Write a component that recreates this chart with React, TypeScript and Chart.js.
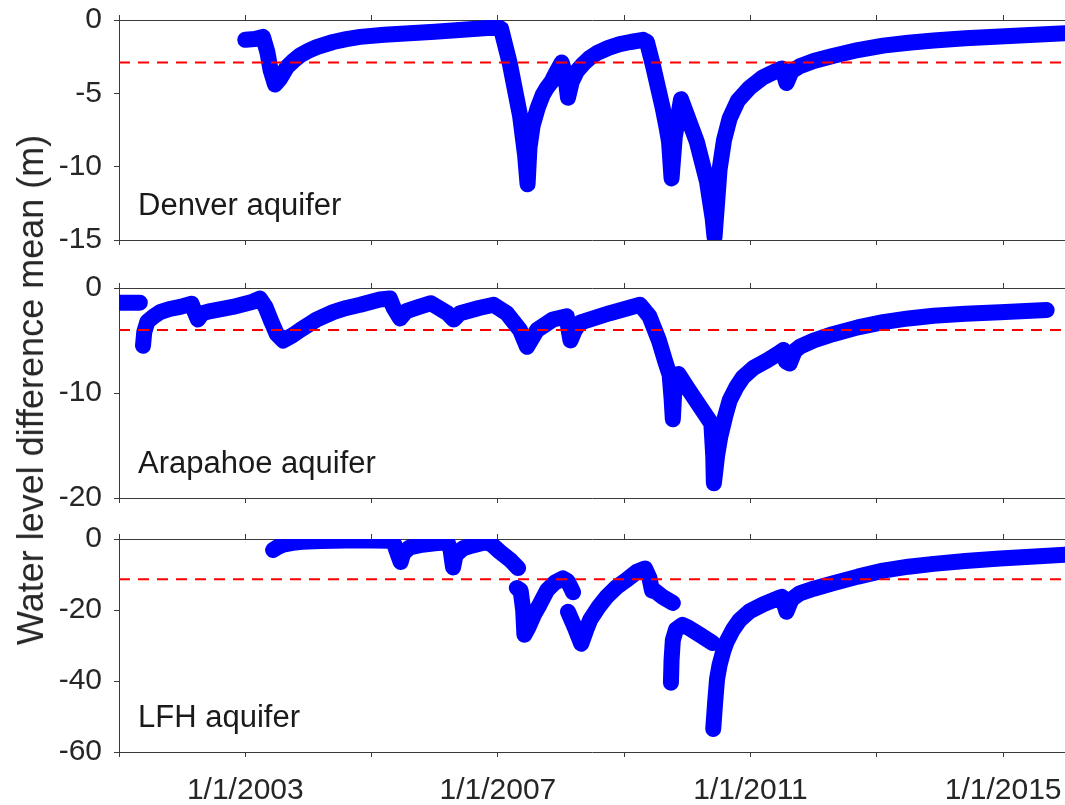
import React, { useEffect, useRef } from 'react';
import { Chart, registerables } from 'chart.js';

Chart.register(...registerables);

// ---- Shared time axis (decimal years) ----
const X_MIN = 2001;
const X_MAX = 2015.98;
const X_TICKS = [2001, 2003, 2005, 2007, 2009, 2011, 2013, 2015];
const X_LABELED = [2003, 2007, 2011, 2015];

// ---- Y ticks per aquifer ----
const DENVER_TICKS = [0, -5, -10, -15];
const ARAPAHOE_TICKS = [0, -10, -20];
const LFH_TICKS = [0, -20, -40, -60];

// ---- Long-term means (dashed reference lines) ----
const DENVER_MEAN = -2.9;
const ARAPAHOE_MEAN = -4.0;
const LFH_MEAN = -11.35;

// ---- Water level difference series: [decimal year, metres]; null breaks the record ----
const DENVER: [number, number | null][] = [
  [2003.0, -1.35], [2003.15, -1.3], [2003.28, -1.15], [2003.35, -2.2], [2003.4, -3.4],
  [2003.47, -4.4], [2003.55, -4.0], [2003.66, -3.2], [2003.77, -2.75], [2003.87, -2.4],
  [2004.0, -2.1], [2004.13, -1.85], [2004.39, -1.5], [2004.6, -1.3], [2004.82, -1.15],
  [2005.2, -1.0], [2005.6, -0.9], [2006.0, -0.8], [2006.5, -0.65], [2007.0, -0.5],
  [2007.05, -0.6], [2007.19, -3.0], [2007.35, -6.5], [2007.43, -9.2], [2007.47, -11.2],
  [2007.5, -8.7], [2007.55, -7.2], [2007.63, -6.0], [2007.71, -5.1], [2007.78, -4.6],
  [2007.85, -4.2], [2007.92, -3.6], [2008.01, -2.9], [2008.06, -3.6], [2008.11, -5.3],
  [2008.17, -4.2], [2008.25, -3.5], [2008.35, -3.0], [2008.45, -2.6], [2008.57, -2.25],
  [2008.75, -1.9], [2008.93, -1.65], [2009.1, -1.5], [2009.3, -1.35], [2009.36, -1.5],
  [2009.45, -3.0], [2009.53, -4.5], [2009.61, -6.0], [2009.67, -7.3], [2009.71, -8.3],
  [2009.75, -10.8], [2009.8, -8.0], [2009.9, -5.4], [2010.15, -8.3], [2010.31, -11.0],
  [2010.4, -13.5], [2010.43, -14.8], [2010.47, -12.5], [2010.51, -10.2], [2010.58, -8.2],
  [2010.67, -6.7], [2010.8, -5.5], [2010.99, -4.6], [2011.2, -3.9], [2011.42, -3.45],
  [2011.5, -3.3], [2011.57, -4.3], [2011.65, -3.5], [2011.78, -3.15], [2012.0, -2.8],
  [2012.3, -2.45], [2012.7, -2.05], [2013.1, -1.75], [2013.5, -1.55], [2013.9, -1.4],
  [2014.4, -1.25], [2014.95, -1.12], [2015.5, -1.0], [2015.98, -0.9],
];

const ARAPAHOE: [number, number | null][] = [
  [2001.0, -1.4], [2001.18, -1.4], [2001.33, -1.4], [2001.35, null],
  [2001.38, -5.5], [2001.4, -4.2], [2001.45, -3.2], [2001.55, -2.7], [2001.65, -2.3],
  [2001.8, -2.0], [2001.97, -1.8], [2002.15, -1.5], [2002.2, -2.3], [2002.25, -3.0],
  [2002.32, -2.4], [2002.45, -2.2], [2002.8, -1.8], [2003.12, -1.3], [2003.23, -1.0],
  [2003.32, -1.8], [2003.42, -3.3], [2003.5, -4.4], [2003.6, -5.0], [2003.75, -4.5],
  [2003.87, -4.0], [2004.0, -3.5], [2004.13, -3.0], [2004.39, -2.3], [2004.6, -1.9],
  [2004.82, -1.6], [2005.13, -1.1], [2005.29, -1.0], [2005.35, -1.9], [2005.45, -2.9],
  [2005.55, -2.2], [2005.75, -1.8], [2005.94, -1.45], [2006.2, -2.4], [2006.3, -3.0],
  [2006.4, -2.4], [2006.7, -1.9], [2006.93, -1.6], [2007.14, -2.4], [2007.35, -4.0],
  [2007.46, -5.6], [2007.62, -4.0], [2007.87, -3.0], [2008.09, -2.7], [2008.12, -4.0],
  [2008.15, -5.0], [2008.22, -4.0], [2008.3, -3.3], [2008.77, -2.4], [2009.25, -1.6],
  [2009.4, -2.7], [2009.55, -5.0], [2009.65, -7.0], [2009.72, -8.3], [2009.75, -10.5],
  [2009.77, -12.5], [2009.8, -9.0], [2009.86, -8.2], [2010.0, -9.5], [2010.2, -11.3],
  [2010.38, -12.9], [2010.41, -16.0], [2010.42, -18.6], [2010.47, -16.0], [2010.52, -14.2],
  [2010.6, -12.2], [2010.67, -10.7], [2010.78, -9.4], [2010.88, -8.5], [2011.05, -7.6],
  [2011.26, -6.9], [2011.45, -6.2], [2011.52, -5.9], [2011.56, -7.0], [2011.62, -7.2],
  [2011.7, -6.0], [2011.78, -5.6], [2012.0, -5.0], [2012.3, -4.4], [2012.7, -3.75],
  [2013.1, -3.25], [2013.5, -2.9], [2013.9, -2.65], [2014.4, -2.45], [2014.95, -2.3],
  [2015.69, -2.1],
];

const LFH: [number, number | null][] = [
  [2003.44, -3.1], [2003.52, -2.2], [2003.6, -1.6], [2003.75, -1.1], [2003.9, -0.8],
  [2004.2, -0.6], [2004.6, -0.4], [2005.0, -0.4], [2005.3, -0.5], [2005.36, -1.5],
  [2005.42, -4.5], [2005.46, -6.5], [2005.5, -4.0], [2005.6, -2.4], [2005.8, -1.6],
  [2006.0, -1.2], [2006.2, -0.9], [2006.25, -3.0], [2006.29, -8.0], [2006.33, -4.5],
  [2006.45, -2.6], [2006.6, -1.8], [2006.8, -0.9], [2006.9, -1.5], [2007.03, -3.6],
  [2007.2, -6.0], [2007.32, -8.2], [2007.32, null],
  [2007.3, -13.8], [2007.36, -14.5], [2007.4, -20.0], [2007.42, -27.0], [2007.48, -25.0],
  [2007.58, -21.0], [2007.66, -18.5], [2007.78, -14.4], [2007.9, -12.3], [2008.03, -11.1],
  [2008.1, -11.8], [2008.15, -13.5], [2008.19, -15.0], [2008.19, null],
  [2008.11, -20.5], [2008.22, -25.0], [2008.32, -29.5], [2008.4, -25.5], [2008.46, -22.8],
  [2008.6, -19.0], [2008.72, -16.3], [2008.88, -13.5], [2009.04, -11.5], [2009.2, -9.2],
  [2009.33, -8.3], [2009.4, -11.0], [2009.44, -14.5], [2009.5, -14.8], [2009.6, -16.2],
  [2009.77, -18.0], [2009.77, null],
  [2009.74, -40.5], [2009.75, -34.0], [2009.77, -28.5], [2009.82, -25.5], [2009.92, -24.2],
  [2010.0, -24.8], [2010.2, -27.0], [2010.4, -29.3], [2010.4, null],
  [2010.41, -53.5], [2010.44, -46.0], [2010.47, -39.5], [2010.51, -35.5], [2010.57, -31.5],
  [2010.62, -29.0], [2010.72, -25.6], [2010.83, -22.8], [2010.99, -20.3], [2011.2, -18.4],
  [2011.42, -16.8], [2011.5, -16.3], [2011.57, -20.5], [2011.65, -17.0], [2011.78, -15.3],
  [2012.0, -14.0], [2012.3, -12.5], [2012.7, -10.6], [2013.1, -8.9], [2013.5, -7.8],
  [2013.9, -7.0], [2014.4, -6.2], [2014.95, -5.5], [2015.5, -4.9], [2015.98, -4.4],
];

// ---- Styling / layout ----
const FONT = '"Liberation Sans", Arial, Helvetica, sans-serif';
const TEXT = '#262626';
const AXIS = '#3a3a3a';
const WIDTH = 1065;
const AXIS_LEFT = 119;
const PAD_TOP = 20;
const TICK_LEN = 5;

Chart.defaults.font.family = FONT;

// Panel name written in the lower-left corner of each plot area
const panelLabel = {
  id: 'panelLabel',
  afterDatasetsDraw(chart: any, _args: any, opts: any) {
    const { ctx, chartArea } = chart;
    ctx.save();
    ctx.font = `31px ${FONT}`;
    ctx.fillStyle = '#1a1a1a';
    ctx.textBaseline = 'alphabetic';
    ctx.textAlign = 'left';
    ctx.fillText(opts.text, chartArea.left + 19, chartArea.bottom - 25);
    ctx.restore();
  },
};

type PanelProps = {
  label: string;
  points: [number, number | null][];
  mean: number;
  yTicks: number[];
  top: number;
  bottom: number;
  bottomSpace: number;
  showDates: boolean;
};

function xTicks(scale: any) {
  scale.ticks = X_TICKS.map((value) => ({ value }));
}

// keep the plot area exactly where the axis boxes put it
function noScalePadding(s: any) {
  s.paddingTop = 0;
  s.paddingBottom = 0;
  s.paddingLeft = 0;
  s.paddingRight = 0;
}

function AquiferPanel(p: PanelProps) {
  const ref = useRef<HTMLCanvasElement | null>(null);
  const canvasH = p.bottom - p.top + PAD_TOP + p.bottomSpace;

  useEffect(() => {
    if (!ref.current) return;
    const yMin = Math.min(...p.yTicks);
    const yMax = Math.max(...p.yTicks);
    const gridStyle = {
      drawOnChartArea: false,
      drawTicks: true,
      tickLength: TICK_LEN,
      color: AXIS,
      lineWidth: 1,
    };
    const chart = new Chart(ref.current, {
      type: 'line',
      data: {
        datasets: [
          {
            data: [
              { x: X_MIN, y: p.mean },
              { x: X_MAX, y: p.mean },
            ],
            borderColor: '#ff0000',
            borderWidth: 2,
            borderDash: [11, 8],
            pointRadius: 0,
            xAxisID: 'x',
            yAxisID: 'y',
            order: 0,
          },
          {
            data: p.points.map(([x, y]) => ({ x, y })),
            borderColor: '#0000ff',
            borderWidth: 16,
            borderCapStyle: 'round',
            borderJoinStyle: 'round',
            pointRadius: 0,
            spanGaps: false,
            tension: 0,
            xAxisID: 'x',
            yAxisID: 'y',
            order: 1,
          },
        ],
      } as any,
      options: {
        animation: false,
        responsive: false,
        maintainAspectRatio: false,
        events: [],
        layout: {
          autoPadding: false,
          padding: { top: PAD_TOP - 8, bottom: p.showDates ? 0 : p.bottomSpace - 8, left: 0, right: 0 },
        },
        plugins: {
          legend: { display: false },
          tooltip: { enabled: false },
          panelLabel: { text: p.label },
        } as any,
        scales: {
          x: {
            type: 'linear',
            position: 'bottom',
            min: X_MIN,
            max: X_MAX,
            afterBuildTicks: xTicks,
            afterFit: (s: any) => {
              s.height = p.showDates ? p.bottomSpace : 8;
              noScalePadding(s);
            },
            ticks: {
              display: p.showDates,
              autoSkip: false,
              maxRotation: 0,
              padding: 16,
              color: TEXT,
              font: { size: 30, family: FONT },
              callback: (v: any) => (X_LABELED.includes(Number(v)) ? `1/1/${v}` : ''),
            },
            grid: gridStyle,
            border: { display: true, color: AXIS, width: 1 },
          },
          x2: {
            type: 'linear',
            position: 'top',
            min: X_MIN,
            max: X_MAX,
            afterBuildTicks: xTicks,
            afterFit: (s: any) => {
              s.height = 8;
              noScalePadding(s);
            },
            ticks: { display: false, autoSkip: false },
            grid: gridStyle,
            border: { display: true, color: AXIS, width: 1 },
          },
          y: {
            type: 'linear',
            position: 'left',
            min: yMin,
            max: yMax,
            afterBuildTicks: (s: any) => {
              s.ticks = p.yTicks.map((value) => ({ value }));
            },
            afterFit: (s: any) => {
              s.width = AXIS_LEFT;
              noScalePadding(s);
            },
            ticks: {
              padding: 12,
              color: TEXT,
              font: { size: 30, family: FONT },
              callback: (v: any) => String(v),
            },
            grid: gridStyle,
            border: { display: true, color: AXIS, width: 1 },
          },
        },
      } as any,
      plugins: [panelLabel],
    });
    return () => chart.destroy();
  }, []);

  return (
    <canvas
      ref={ref}
      width={WIDTH}
      height={canvasH}
      style={{ position: 'absolute', left: 0, top: p.top - PAD_TOP, width: WIDTH, height: canvasH }}
    />
  );
}

export default function App() {
  return (
    <div
      style={{
        position: 'fixed',
        left: 0,
        top: 0,
        width: WIDTH,
        height: 805,
        overflow: 'hidden',
        background: '#ffffff',
      }}
    >
      <AquiferPanel
        label="Denver aquifer"
        points={DENVER}
        mean={DENVER_MEAN}
        yTicks={DENVER_TICKS}
        top={20}
        bottom={240}
        bottomSpace={22}
        showDates={false}
      />
      <AquiferPanel
        label="Arapahoe aquifer"
        points={ARAPAHOE}
        mean={ARAPAHOE_MEAN}
        yTicks={ARAPAHOE_TICKS}
        top={288}
        bottom={498}
        bottomSpace={22}
        showDates={false}
      />
      <AquiferPanel
        label="LFH aquifer"
        points={LFH}
        mean={LFH_MEAN}
        yTicks={LFH_TICKS}
        top={539}
        bottom={752}
        bottomSpace={53}
        showDates={true}
      />
      <div
        style={{
          position: 'absolute',
          left: 31,
          top: 390,
          transform: 'translate(-50%, -50%) rotate(-90deg)',
          whiteSpace: 'nowrap',
          fontFamily: FONT,
          fontSize: 36,
          lineHeight: 1,
          color: TEXT,
        }}
      >
        Water level difference mean (m)
      </div>
    </div>
  );
}
